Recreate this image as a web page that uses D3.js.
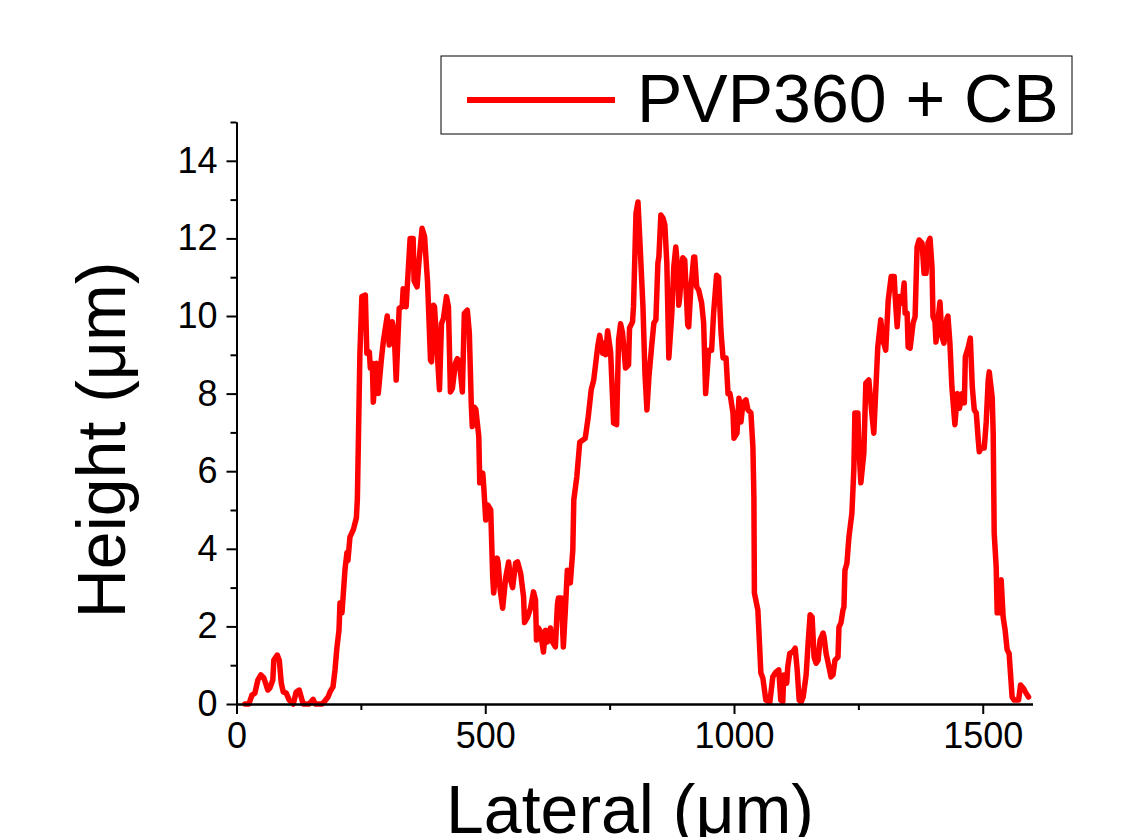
<!DOCTYPE html>
<html>
<head>
<meta charset="utf-8">
<script src="https://cdn.jsdelivr.net/npm/d3@7"></script>
<style>
  html, body { margin: 0; padding: 0; background: #fff; }
  svg { display: block; font-family: "Liberation Sans", Arial, sans-serif; }
</style>
</head>
<body>
<svg id="chart" width="1127" height="837"></svg>
<script>
// ---- Data ----
const seriesName = "PVP360 + CB";
const xTitle = "Lateral (μm)";
const yTitle = "Height (μm)";
const xTicks = [0, 500, 1000, 1500];
const xMinorTicks = [250, 750, 1250];
const yTicks = [0, 2, 4, 6, 8, 10, 12, 14];
const yMinorTicks = [1, 3, 5, 7, 9, 11, 13, 15];

const lateral = [17,25,31,37,43,49,55,63,67,73,75,82,86,90,94,100,106,114,120,126,130,134,146,154,158,172,176,184,188,194,198,202,206,208,212,218,222,224,228,235,241,243,248,252,259,
262,267,269,273,275,281,285,291,295,303,307,313,317,321,327,333,335,341,343,349,355,357,363,367,373,378,382,384,390,392,396,398,404,408,412,416,422,426,430,434,440,444,448,454,458,464,468,
472,474,478,481,487,489,495,497,501,505,511,515,517,524,526,530,535,541,547,551,555,561,565,571,577,579,585,591,597,601,603,607,611,617,621,625,631,635,641,645,647,653,657,661,665,671,676,678,684,690,696,701,707,713,718,726,730,736,740,742,746,752,758,764,768,772,776,782,788,790,796,798,803,807,811,817,821,825,829,835,839,843,847,849,853,857,861,865,869,875,879,883,887,889,891,897,901,907,909,913,919,921,925,929,935,939,943,949,955,959,965,969,974,978,984,988,992,998,1000,1006,1010,1014,1018,1024,1028,1034,1038,1040,1041,1048,1054,1058,1064,1072,1078,1084,1090,1094,1098,1100,1106,1108,1112,1118,1123,1127,1131,1135,1139,1145,1149,1153,1157,1161,1165,1169,1173,1179,1181,1185,1191,1195,1199,1203,1209,1211,1215,1219,1221,1223,1227,1231,1237,1239,1241,1243,1249,1251,1255,1261,1265,1271,1277,1281,1289,1295,1299,1305,1310,1316,1322,1324,1328,1332,1338,1342,1344,1348,1350,1354,1360,1364,1368,1372,1378,1382,1386,1390,1394,1398,1400,1404,1406,1410,1414,1418,1422,1428,1430,1434,1438,1444,1449,1453,1459,1463,1465,1471,1475,1479,1483,1487,1491,1493,1497,1503,1507,1511,1513,1519,1521,1523,1527,1529,1533,1537,1541,1545,1549,1553,1559,1563,1572,1576,1582,1586,1592];

const height = [0,0,0.23,0.28,0.62,0.75,0.67,0.36,0.41,0.62,1.13,1.26,1.13,0.54,0.31,0.28,0.1,0,0.31,0.36,0.18,0,0,0.12,0,0,0.05,0.18,0.31,0.44,0.88,1.47,1.9,2.6,2.35,3.45,3.9,3.7,4.3,4.5,4.8,5.3,9.0,10.5,10.54,
9.04,9.07,8.66,8.78,7.78,8.78,8.0,8.86,9.33,10.0,9.25,9.85,9.56,8.35,10.2,10.24,10.7,10.24,10.7,12.0,12.0,10.9,10.75,11.44,12.26,12.05,11.26,10.88,8.86,8.82,10.28,10.24,8.95,8.1,9.8,9.94,10.5,10.24,8.04,8.14,8.78,8.9,8.82,8.04,10.07,10.15,9.56,
7.7,7.15,7.65,7.6,6.9,5.7,5.95,5.6,4.74,5.13,5.0,3.27,2.86,3.76,3.63,2.94,2.47,3.25,3.66,3.2,3.0,3.63,3.66,3.38,2.76,2.1,2.24,2.47,2.89,2.68,1.65,1.96,1.86,1.34,1.9,1.6,1.96,1.6,1.47,2.55,2.73,2.73,1.47,2.42,3.45,3.12,3.97,5.26,5.85,6.75,6.8,6.85,7.4,8.1,8.35,9.2,9.5,9.04,9.3,9.0,9.62,9.07,7.24,7.2,9.38,9.8,9.56,8.66,8.74,9.69,9.85,10.24,12.65,12.94,11.88,10.24,8.53,7.58,8.43,9.3,9.82,9.9,11.36,11.52,12.6,12.53,12.35,11.36,8.92,10.07,11.26,11.78,11.19,10.28,10.5,11.5,11.44,9.77,9.72,10.67,11.52,11.52,10.75,10.67,10.33,9.82,8.0,9.12,9.12,10.07,11.05,11.0,9.56,8.92,8.92,8.0,8.0,7.5,6.85,6.98,7.88,7.27,7.76,7.84,7.58,7.5,6.62,5.34,2.86,2.42,0.8,0.67,0.1,0.05,0.7,0.82,0.88,0.1,0.05,0.75,0.54,0.95,1.3,1.34,1.44,0.88,0.1,0.05,0.18,0.75,1.57,2.3,2.24,1.21,1.05,1.13,1.65,1.83,1.73,1.31,0.95,0.7,0.75,1.13,1.21,1.98,2.09,2.42,2.5,3.45,3.63,4.3,4.92,5.5,6.1,7.5,7.5,6.62,5.7,6.47,8.27,8.35,7.5,6.98,9.2,9.9,9.38,9.12,10.41,11.02,11.02,10.5,9.72,10.5,10.33,10.85,10.07,10.07,9.2,9.17,9.82,9.98,11.78,11.96,11.88,11.1,11.1,11.88,12.0,11.26,9.98,9.85,9.33,9.9,10.36,9.46,9.3,9.94,10.0,9.3,8.17,7.2,8.0,7.62,8.0,7.76,8.95,9.2,9.43,8.17,7.58,7.5,6.8,6.5,6.6,6.6,7.27,8.35,8.56,7.9,6.98,4.4,3.53,2.35,2.35,3.2,2.24,1.9,1.4,1.3,0.18,0.1,0.1,0.49,0.4,0.3,0.18];

// ---- Layout ----
const svg = d3.select("#chart");
const x = d3.scaleLinear().domain([0, 1600]).range([236.5, 1032.5]);
const y = d3.scaleLinear().domain([0, 15]).range([704, 122]);

const points = lateral.map((v, i) => [v, height[i]]);

// Line
const line = d3.line().x(d => x(d[0])).y(d => y(d[1]));
svg.append("path")
  .datum(points)
  .attr("fill", "none")
  .attr("stroke", "#ff0000")
  .attr("stroke-width", 5.5)
  .attr("stroke-linejoin", "round")
  .attr("stroke-linecap", "round")
  .attr("d", line);

// Axes
const xAxis = svg.append("g").attr("transform", `translate(0,${y(0)})`)
  .call(d3.axisBottom(x).tickValues(xTicks).tickSize(10).tickSizeOuter(0).tickPadding(8).tickFormat(d3.format("d")));
const xMinor = svg.append("g").attr("transform", `translate(0,${y(0)})`)
  .call(d3.axisBottom(x).tickValues(xMinorTicks).tickSize(6).tickSizeOuter(0).tickFormat(""));
const yAxis = svg.append("g").attr("transform", `translate(${x(0)},0)`)
  .call(d3.axisLeft(y).tickValues(yTicks).tickSize(10).tickSizeOuter(0).tickPadding(9).tickFormat(d3.format("d")));
const yMinor = svg.append("g").attr("transform", `translate(${x(0)},0)`)
  .call(d3.axisLeft(y).tickValues(yMinorTicks).tickSize(6).tickSizeOuter(0).tickFormat(""));

[xAxis, xMinor, yAxis, yMinor].forEach(g => {
  g.selectAll(".domain").attr("stroke", "#000").attr("stroke-width", 2);
  g.selectAll(".tick line").attr("stroke", "#000").attr("stroke-width", 2);
  g.selectAll(".tick text").attr("fill", "#000")
    .style("font-family", '"Liberation Sans", Arial, sans-serif')
    .style("font-size", "36px");
});

// Axis titles
svg.append("text")
  .attr("x", 630).attr("y", 833)
  .attr("text-anchor", "middle")
  .style("font-size", "68px")
  .text(xTitle);

svg.append("text")
  .attr("transform", "translate(125,440) rotate(-90)")
  .attr("text-anchor", "middle")
  .style("font-size", "68px")
  .text(yTitle);

// Legend
const lg = svg.append("g");
lg.append("rect")
  .attr("x", 441).attr("y", 56).attr("width", 631).attr("height", 78)
  .attr("fill", "#fff").attr("stroke", "#000").attr("stroke-width", 1);
lg.append("line")
  .attr("x1", 467).attr("x2", 615).attr("y1", 100).attr("y2", 100)
  .attr("stroke", "#ff0000").attr("stroke-width", 6);
lg.append("text")
  .attr("x", 637).attr("y", 122)
  .style("font-size", "68px")
  .text(seriesName);
</script>
</body>
</html>
